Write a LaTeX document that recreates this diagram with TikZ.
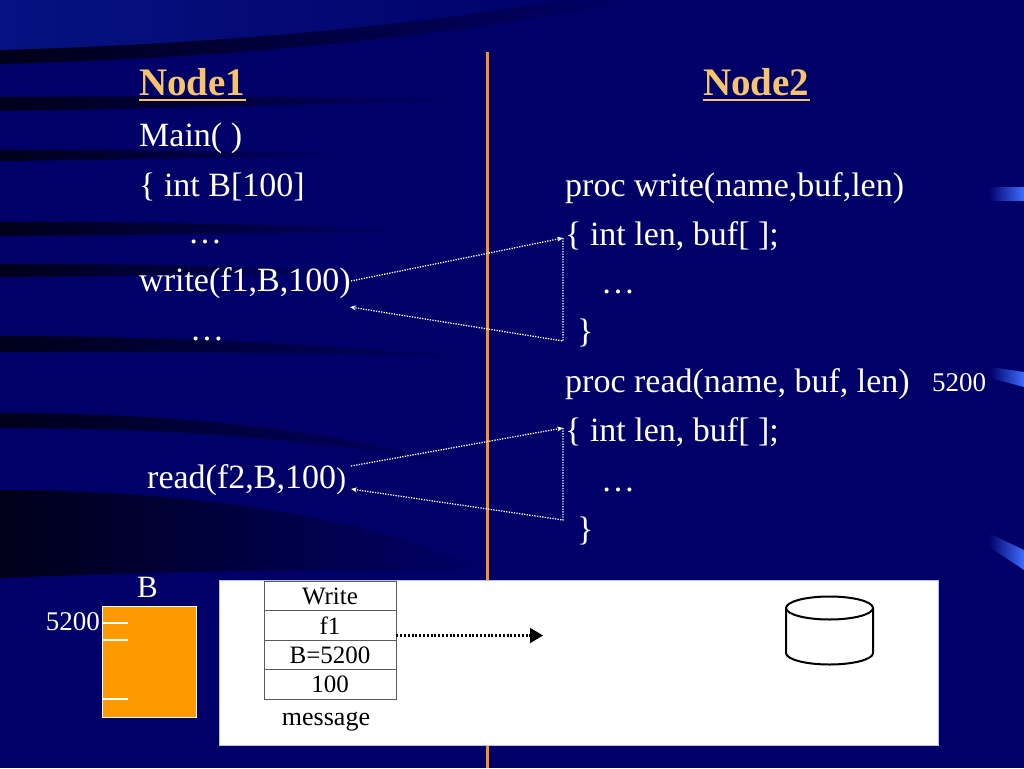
\documentclass[tikz,border=0pt]{standalone}
\usepackage{fontspec}
\setmainfont{Liberation Serif}
\usetikzlibrary{arrows.meta}
\definecolor{bg}{HTML}{000068}
\definecolor{streak}{HTML}{00001A}
\definecolor{topglow}{HTML}{061282}
\definecolor{gold}{HTML}{F7C46C}
\definecolor{orangeline}{HTML}{F7941D}
\definecolor{memorange}{HTML}{FF9900}
\definecolor{barblue}{HTML}{3D6EFF}
\definecolor{cellgray}{HTML}{5A5A5A}
\definecolor{boxedge}{HTML}{B8C0E8}
\begin{document}
\begin{tikzpicture}[x=1pt,y=-1pt,
  txt/.style={anchor=base west, inner sep=0pt, text=white, font=\fontsize{34}{40}\selectfont},
  head/.style={anchor=base west, inner sep=0pt, text=gold, font=\bfseries\fontsize{39}{44}\selectfont},
  small/.style={inner sep=0pt, text=white, font=\fontsize{27}{30}\selectfont},
  dotarrow/.style={white, line width=1.3pt, dash pattern=on 1.3pt off 1.3pt, -{Stealth[length=6pt,width=5pt]}},
  cell/.style={draw=cellgray, line width=0.9pt, minimum width=132pt, minimum height=29.5pt, inner sep=0pt, text=black, font=\fontsize{25}{28}\selectfont},
  msgarrow/.style={black, line width=2.2pt, dash pattern=on 2pt off 1.8pt, -{Triangle[length=13pt,width=15pt]}},
  band/.style={left color=streak, right color=bg}
]
\useasboundingbox (0,0) rectangle (1024,768);
% background
\fill[bg] (0,0) rectangle (1024,768);
\shade[left color=topglow, right color=bg] (0,0) -- (600,0) .. controls (440,26) and (220,46) .. (0,52) -- cycle;
% dark streaks (tapering swooshes)
\shade[band] (0,50) .. controls (220,44) and (430,24) .. (560,0) -- (640,0) .. controls (460,36) and (230,58) .. (0,64) -- cycle;
\shade[band] (0,97) .. controls (180,96) and (350,97) .. (480,100) .. controls (350,104) and (180,108) .. (0,111) -- cycle;
\shade[band] (0,150) .. controls (120,149) and (250,151) .. (360,155) .. controls (250,157) and (120,160) .. (0,161) -- cycle;
\shade[band] (0,222) .. controls (150,221) and (300,225) .. (440,232) .. controls (300,232) and (150,235) .. (0,236) -- cycle;
\shade[band] (0,264) .. controls (120,263) and (260,267) .. (390,273) .. controls (260,274) and (120,276) .. (0,277) -- cycle;
\shade[band] (0,336) .. controls (150,336) and (320,343) .. (480,358) .. controls (320,352) and (150,352) .. (0,352) -- cycle;
\shade[band] (0,413) .. controls (150,413) and (330,425) .. (480,472) .. controls (330,436) and (150,428) .. (0,428) -- cycle;
\shade[band] (0,490) .. controls (160,490) and (360,510) .. (490,572) .. controls (300,568) and (150,572) .. (0,578) -- cycle;
% right edge bars
\shade[left color=bg, right color=barblue] (988,187) rectangle (1024,200);
\shade[left color=bg, right color=barblue] (990,367) -- (1024,372) -- (1024,387) -- (990,378) -- cycle;
\shade[left color=bg, right color=barblue] (988,533) -- (1024,550) -- (1024,570) -- (988,546) -- cycle;
% divider
\coordinate (divtop) at (487,52);
\coordinate (divbot) at (487,768);
\draw[orangeline, line width=3pt] (divtop) -- (divbot);
% headings
\node[head] (n1) at (139,95) {Node1};
\node[head] (n2) at (703,95) {Node2};
\draw[gold, line width=2pt] ([yshift=-4.5pt]n1.base west) -- ([yshift=-4.5pt]n1.base east);
\draw[gold, line width=2pt] ([yshift=-4.5pt]n2.base west) -- ([yshift=-4.5pt]n2.base east);
% left code
\node[txt] (l1) at (139,146) {Main( )};
\node[txt] (l2) at (139,196) {\{ int B[100]};
\node[txt] (l3) at (188,243) {…};
\node[txt] (l4) at (139,291) {write(f1,B,100)};
\node[txt] (l5) at (190,340) {…};
\node[txt] (l6) at (147,488) {read(f2,B,100{\fontsize{30}{34}\selectfont)}};
% right code
\node[txt] (r1) at (565,196) {proc write(name,buf,len)};
\node[txt] (r2) at (565,245) {\{ int len, buf[ ];};
\node[txt] (r3) at (601,293) {…};
\node[txt] (r4) at (577,342) {\}};
\node[txt] (r5) at (565,392) {proc read(name, buf, len)};
\node[small, anchor=base west] (r5n) at (932,391) {5200};
\node[txt] (r6) at (565,441) {\{ int len, buf[ ];};
\node[txt] (r7) at (601,491) {…};
\node[txt] (r8) at (577,540) {\}};
% call/return connectors
\coordinate (w1s) at (351,281);
\coordinate (w2t) at (563,238);
\coordinate (w2b) at (563,341);
\coordinate (w1e) at (350,307);
\coordinate (q1s) at (351,466);
\coordinate (q2t) at (563,428);
\coordinate (q2b) at (563,520);
\coordinate (q1e) at (351,489);
\draw[dotarrow] (w1s) -- (w2t);
\draw[dotarrow] (w2t) -- (w2b) -- (w1e);
\draw[dotarrow] (q1s) -- (q2t);
\draw[dotarrow] (q2t) -- (q2b) -- (q1e);
% memory B
\node[small, anchor=base] (blabel) at (147.5,597) {\fontsize{31}{34}\selectfont B};
\node[draw=white, line width=0.8pt, fill=memorange, minimum width=94pt, minimum height=111pt, inner sep=0pt] (bmem) at (149,661.5) {};
\coordinate (tk1a) at (102,623); \coordinate (tk1b) at (128,623);
\coordinate (tk2a) at (102,640); \coordinate (tk2b) at (128,640);
\coordinate (tk3a) at (102,699); \coordinate (tk3b) at (128,699);
\draw[white, line width=1.4pt] (tk1a) -- (tk1b);
\draw[white, line width=1.4pt] (tk2a) -- (tk2b);
\draw[white, line width=1.4pt] (tk3a) -- (tk3b);
\node[small, anchor=base east] (baddr) at (100,630) {5200};
% message panel
\node[draw=boxedge, line width=1pt, fill=white, minimum width=719pt, minimum height=165pt, inner sep=0pt] (panel) at (578.5,662.5) {};
\node[cell] (t1) at (330,596) {Write};
\node[cell] (t2) at (330,625.5) {f1};
\node[cell] (t3) at (330,655) {B=5200};
\node[cell] (t4) at (330,684.5) {100};
\node[inner sep=0pt, anchor=base, text=black, font=\fontsize{26}{29}\selectfont] (msg) at (326,725) {message};
\coordinate (mtip) at (543,635.5);
\draw[msgarrow] ([yshift=-10pt]t2.east) -- (mtip);
% disk cylinder
\draw[black, line width=2pt] (829.5,608) ellipse [x radius=43.5, y radius=11.5];
\draw[black, line width=2pt] (786,608) -- (786,653) arc[start angle=180, end angle=0, x radius=43.5, y radius=11.5] -- (873,608);
\end{tikzpicture}
\end{document}
